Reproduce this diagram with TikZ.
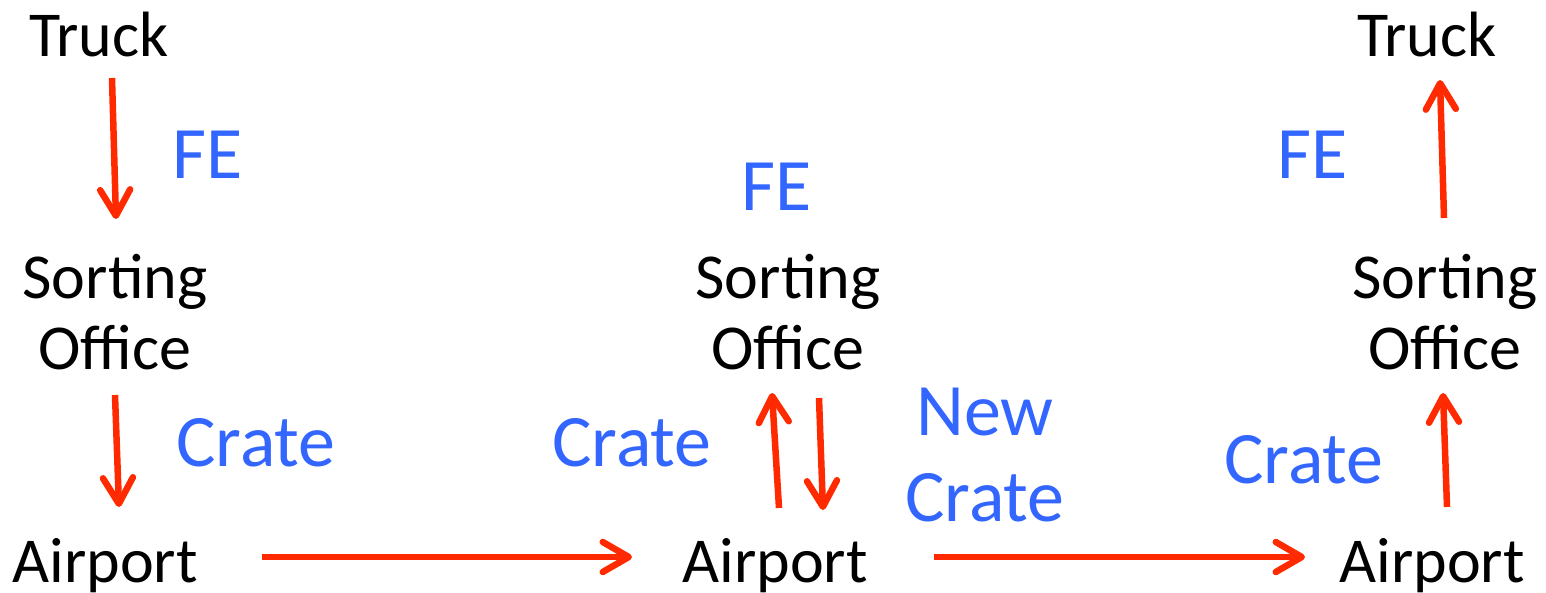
\documentclass[tikz,border=0pt]{standalone}
\usepackage{fontspec}
\setmainfont{Carlito}
\usetikzlibrary{arrows.meta,calc}
\definecolor{arrred}{HTML}{FF2A00}
\definecolor{lblblue}{HTML}{3366FF}
\tikzset{
  place/.style={inner sep=0pt, align=center, font=\fontsize{64}{71}\selectfont, text=black},
  lbl/.style={inner sep=0pt, align=center, font=\fontsize{74}{86}\selectfont, text=lblblue},
  arr/.style={draw=arrred, line width=6.5pt, -{Straight Barb[length=26pt,width=30pt,round]}}
}
\begin{document}
\begin{tikzpicture}[x=1pt,y=-1pt]
\useasboundingbox (0,0) rectangle (1546,593);
% places
\node[place] (t1) at (99,35) {Truck};
\node[place] (s1) at (115,312) {Sorting\\Office};
\node[place] (a1) at (105,566) {Airport};
\node[place] (s2) at (788,312) {Sorting\\Office};
\node[place] (a2) at (775,566) {Airport};
\node[place] (t3) at (1427,35) {Truck};
\node[place] (s3) at (1445,312) {Sorting\\Office};
\node[place] (a3) at (1432,566) {Airport};
% labels
\node[lbl] (l1) at (208,155) {FE};
\node[lbl] (l2) at (256,443) {Crate};
\node[lbl] (l3) at (777,187) {FE};
\node[lbl] (l4) at (632,443) {Crate};
\node[lbl] (l5) at (985,455) {New\\Crate};
\node[lbl] (l6) at (1313,155) {FE};
\node[lbl] (l7) at (1304,460) {Crate};
% connectors
\draw[arr] ($(t1)+(13,43)$) -- ($(s1)+(1,-93)$);
\draw[arr] ($(s1)+(0,83)$) -- ($(a1)+(14,-59)$);
\draw[arr] ($(a1)+(157,-9)$) -- ($(a2)+(-143,-9)$);
\draw[arr] ($(a2)+(4,-58)$) -- ($(s2)+(-16,81)$);
\draw[arr] ($(s2)+(31,86)$) -- ($(a2)+(48,-56)$);
\draw[arr] ($(a2)+(159,-9)$) -- ($(a3)+(-127,-9)$);
\draw[arr] ($(a3)+(15,-59)$) -- ($(s3)+(-2,81)$);
\draw[arr] ($(s3)+(-1,-94)$) -- ($(t3)+(13,45)$);
\end{tikzpicture}
\end{document}
